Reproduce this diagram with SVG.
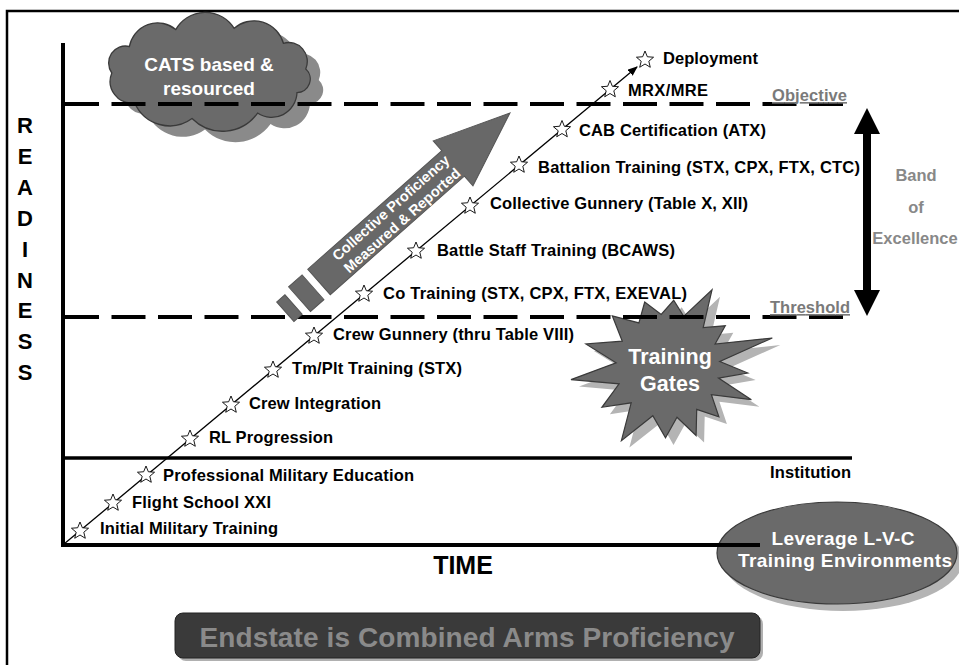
<svg xmlns="http://www.w3.org/2000/svg" width="959" height="665" viewBox="0 0 959 665">
<style>
text{font-family:"Liberation Sans",Arial,sans-serif;font-weight:bold}
.lbl{font-size:16.5px;fill:#000}
.grey{font-size:16.5px;fill:#7a7a7a}
.wt{fill:#fff}
.shape{fill:#6a6a6a;stroke:#3a3a3a;stroke-width:1.2}
.shadow{fill:#b4b4b4}
.dash{stroke:#000;stroke-width:4;stroke-dasharray:34 12.5;fill:none}
.solid{stroke:#000;fill:none}
</style>
<defs>
<path id="st" d="M0,-9 L2.35,-3.24 L8.56,-2.78 L3.8,1.24 L5.29,7.28 L0,4 L-5.29,7.28 L-3.8,1.24 L-8.56,-2.78 L-2.35,-3.24 Z" fill="#fff" stroke="#000" stroke-width="0.9"/>
<path id="cloudShape" d="M119,73 A15.5,15.5 0 0 1 135.3,48.9 A26.5,26.5 0 0 1 178.2,33.5 A31.8,31.8 0 0 1 232.3,32.4 A28.3,28.3 0 0 1 277.9,46 A17.2,17.2 0 0 1 298.6,69.3 A12.3,12.3 0 0 1 290.5,90.8 A23.5,23.5 0 0 1 254,109.4 A40.2,40.2 0 0 1 193.3,114.4 A35.6,35.6 0 0 1 140.1,100 A19.7,19.7 0 0 1 119,73 Z"/>
<marker id="ah" markerWidth="10" markerHeight="8" refX="9" refY="4" orient="auto" markerUnits="userSpaceOnUse">
<path d="M0,0 L10,4 L0,8 Z" fill="#000"/>
</marker>
</defs>

<rect x="7" y="11" width="1000" height="700" fill="#fff" stroke="#000" stroke-width="2.5"/>

<g id="cloud">
<g transform="translate(209,73) scale(1.08,1.1) translate(-209,-73)">
<use href="#cloudShape" transform="translate(12,10)" fill="#8a8a8a"/>
<use href="#cloudShape" fill="#6a6a6a" stroke="#3a3a3a" stroke-width="1.2"/>
</g>
<text class="wt" x="209" y="71" font-size="19" text-anchor="middle">CATS based &amp;</text>
<text class="wt" x="209" y="95" font-size="19" text-anchor="middle">resourced</text>
</g>

<g id="training-gates">
<polygon class="shadow" transform="translate(8,7)" points="712,289.8 703.2,327.7 725.3,325.8 715.1,344 772.3,338 719.8,361.5 747.7,373 718.5,378.1 751.4,399.7 711.4,394.7 718.9,416.9 696.7,409.4 696.1,435.5 677,417.2 665.5,437.9 652.8,415.7 621.4,440.6 631.2,402.8 601.9,407.3 619.1,383.8 571,379.6 616.1,362.8 585.9,344 622.3,341.2 612.3,315.8 638.9,322.9 644.7,302.1 661.2,314.5 673.7,300.3 683.7,316.4"/>
<polygon class="shape" points="712,289.8 703.2,327.7 725.3,325.8 715.1,344 772.3,338 719.8,361.5 747.7,373 718.5,378.1 751.4,399.7 711.4,394.7 718.9,416.9 696.7,409.4 696.1,435.5 677,417.2 665.5,437.9 652.8,415.7 621.4,440.6 631.2,402.8 601.9,407.3 619.1,383.8 571,379.6 616.1,362.8 585.9,344 622.3,341.2 612.3,315.8 638.9,322.9 644.7,302.1 661.2,314.5 673.7,300.3 683.7,316.4"/>
<text class="wt" x="670" y="364" font-size="21.5" text-anchor="middle">Training</text>
<text class="wt" x="670" y="391" font-size="21.5" text-anchor="middle">Gates</text>
</g>

<g id="lvc">
<ellipse class="shadow" cx="843" cy="560" rx="120" ry="51"/>
<ellipse class="shape" cx="837" cy="553" rx="120" ry="51"/>
<text class="wt" x="843" y="545" font-size="19" text-anchor="middle" textLength="143">Leverage L-V-C</text>
<text class="wt" x="845" y="567" font-size="19" text-anchor="middle" textLength="214">Training Environments</text>
</g>

<g id="grid">
<line class="solid" x1="63" y1="43" x2="63" y2="547" stroke-width="4"/>
<line class="solid" x1="61" y1="545" x2="760" y2="545" stroke-width="4"/>
<line class="solid" x1="63" y1="458" x2="852" y2="458" stroke-width="3.5"/>
<line class="dash" x1="65" y1="104" x2="843" y2="104"/>
<line class="dash" x1="65" y1="317" x2="843" y2="317"/>
</g>

<g id="readiness-label">
<text x="25" y="133" font-size="22" text-anchor="middle">R</text>
<text x="25" y="164" font-size="22" text-anchor="middle">E</text>
<text x="25" y="195" font-size="22" text-anchor="middle">A</text>
<text x="25" y="226" font-size="22" text-anchor="middle">D</text>
<text x="25" y="257" font-size="22" text-anchor="middle">I</text>
<text x="25" y="288" font-size="22" text-anchor="middle">N</text>
<text x="25" y="318" font-size="22" text-anchor="middle">E</text>
<text x="25" y="349" font-size="22" text-anchor="middle">S</text>
<text x="25" y="380" font-size="22" text-anchor="middle">S</text>
</g>
<text id="time-label" x="463" y="574" font-size="25" text-anchor="middle">TIME</text>

<g id="levels">
<text class="grey" x="772" y="101" textLength="75" text-decoration="underline">Objective</text>
<text class="grey" x="770" y="313" textLength="80" text-decoration="underline">Threshold</text>
<text class="lbl" x="770" y="478" textLength="81">Institution</text>
</g>

<g id="band">
<path d="M867,108 L880,134 L871,134 L871,290 L880,290 L867,316 L854,290 L863,290 L863,134 L854,134 Z" fill="#000"/>
<text x="916" y="181" font-size="16.5" fill="#888" text-anchor="middle">Band</text>
<text x="916" y="213" font-size="16.5" fill="#888" text-anchor="middle">of</text>
<text x="915" y="244" font-size="16.5" fill="#888" text-anchor="middle">Excellence</text>
</g>

<g id="proficiency-arrow" transform="translate(510,113) rotate(-41.5)">
<path d="M0,0 L-76,-30 L-76,-17 L-255,-17 L-255,17 L-76,17 L-76,30 Z" fill="#686868" stroke="#555" stroke-width="1"/>
<rect x="-281" y="-16.5" width="18" height="33" fill="#686868" stroke="#555" stroke-width="1"/>
<rect x="-300" y="-13" width="11" height="26" fill="#686868" stroke="#555" stroke-width="1"/>
<text class="wt" x="-152" y="-3" font-size="14.5" text-anchor="middle">Collective Proficiency</text>
<text class="wt" x="-152" y="14" font-size="14.5" text-anchor="middle">Measured &amp; Reported</text>
</g>

<g id="connectors">
<line x1="64" y1="544" x2="637" y2="67" stroke="#000" stroke-width="1.3" marker-end="url(#ah)"/>
</g>

<g id="milestones">
<g id="m1"><use href="#st" x="80" y="531"/><text class="lbl" x="100" y="534" textLength="178">Initial Military Training</text></g>
<g id="m2"><use href="#st" x="113" y="503"/><text class="lbl" x="132" y="508" textLength="139">Flight School XXI</text></g>
<g id="m3"><use href="#st" x="146" y="475"/><text class="lbl" x="163" y="481" textLength="251">Professional Military Education</text></g>
<g id="m4"><use href="#st" x="190" y="439"/><text class="lbl" x="209" y="443" textLength="124">RL Progression</text></g>
<g id="m5"><use href="#st" x="231" y="405"/><text class="lbl" x="249" y="409" textLength="132">Crew Integration</text></g>
<g id="m6"><use href="#st" x="273" y="370"/><text class="lbl" x="292" y="374" textLength="170">Tm/Plt Training (STX)</text></g>
<g id="m7"><use href="#st" x="314" y="336"/><text class="lbl" x="333" y="340" textLength="241">Crew Gunnery (thru Table VIII)</text></g>
<g id="m8"><use href="#st" x="364" y="294"/><text class="lbl" x="383" y="299" textLength="304">Co Training (STX, CPX, FTX, EXEVAL)</text></g>
<g id="m9"><use href="#st" x="416" y="251"/><text class="lbl" x="437" y="256" textLength="238">Battle Staff Training (BCAWS)</text></g>
<g id="m10"><use href="#st" x="470" y="206"/><text class="lbl" x="490" y="209" textLength="258">Collective Gunnery (Table X, XII)</text></g>
<g id="m11"><use href="#st" x="519" y="165"/><text class="lbl" x="538" y="173" textLength="322">Battalion Training (STX, CPX, FTX, CTC)</text></g>
<g id="m12"><use href="#st" x="562" y="129.5"/><text class="lbl" x="579" y="136" textLength="187">CAB Certification (ATX)</text></g>
<g id="m13"><use href="#st" x="610" y="89.5"/><text class="lbl" x="628" y="96" textLength="80">MRX/MRE</text></g>
<g id="m14"><use href="#st" x="645" y="60"/><text class="lbl" x="663" y="64" textLength="95">Deployment</text></g>
</g>

<g id="endstate">
<rect x="178" y="616" width="585" height="45" rx="8" fill="#b0b0b0"/>
<rect x="175" y="613" width="585" height="45" rx="8" fill="#3a3a3a" stroke="#222" stroke-width="1"/>
<text x="467" y="647" font-size="28" fill="#8a8a8a" text-anchor="middle" textLength="535">Endstate is Combined Arms Proficiency</text>
</g>
</svg>
